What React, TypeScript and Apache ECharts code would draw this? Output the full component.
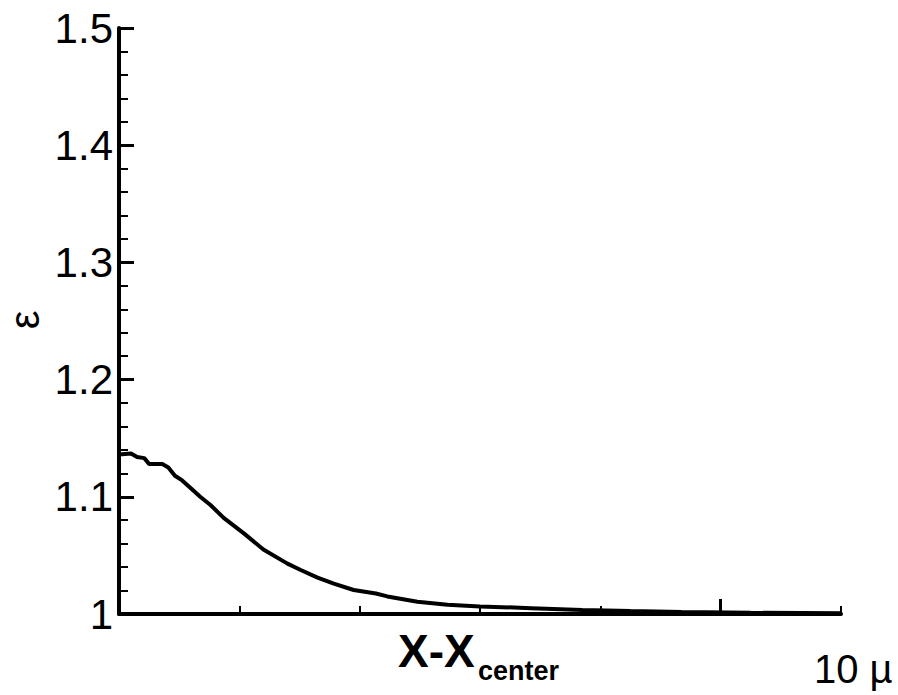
import React, { useEffect, useRef } from "react";
import * as echarts from "echarts";

// x position (µm from centre) and epsilon values
const xValues = [0.0, 0.2, 0.3, 0.42, 0.5, 0.72, 0.82, 0.93, 1.05, 1.18, 1.35, 1.52, 1.74, 2.07, 2.4, 2.8, 3.02, 3.3, 3.57, 3.9, 4.27, 4.46, 4.96, 5.46, 6.0, 6.85, 7.7, 8.5, 9.35, 10.5, 12.0];
const epsValues = [1.136, 1.137, 1.134, 1.133, 1.128, 1.128, 1.125, 1.118, 1.114, 1.108, 1.1, 1.093, 1.082, 1.069, 1.055, 1.043, 1.0375, 1.031, 1.026, 1.0205, 1.0175, 1.015, 1.0105, 1.0078, 1.0065, 1.005, 1.0035, 1.0025, 1.0017, 1.001, 1.0007];

const yMin = 1;
const yMax = 1.5;
const yInterval = 0.1;
const xMin = 0;
const xMax = 12;
const xInterval = 2;
const xMajorTicks = [10];

const xTitleMain = "X-X";
const xTitleSub = "center";
const scaleLabel = "10 µ";
const yTitle = "ε";

const FONT = "'Liberation Sans', Arial, Helvetica, sans-serif";

export default function App() {
  const ref = useRef<HTMLDivElement>(null);
  useEffect(() => {
    if (!ref.current) return;
    const chart = echarts.init(ref.current, null, { renderer: "svg" });
    const data = xValues.map((x, i) => [x, epsValues[i]]);
    chart.setOption({
      animation: false,
      backgroundColor: "#fff",
      grid: { left: 119, right: 57, top: 28, bottom: 81, containLabel: false, outerBoundsMode: "none" },
      xAxis: [
        {
          type: "value",
          min: xMin,
          max: xMax,
          interval: xInterval,
          axisLine: { show: true, lineStyle: { color: "#000", width: 4 } },
          axisTick: { show: true, inside: true, length: 8, lineStyle: { color: "#000", width: 2 } },
          axisLabel: { show: false },
          splitLine: { show: false },
        },
        {
          type: "value",
          min: xMin,
          max: xMax,
          position: "bottom",
          axisLine: { show: false },
          axisTick: { show: true, inside: true, length: 15, customValues: xMajorTicks, lineStyle: { color: "#000", width: 3 } },
          axisLabel: { show: false },
          splitLine: { show: false },
        },
      ],
      yAxis: {
        type: "value",
        min: yMin,
        max: yMax,
        interval: yInterval,
        axisLine: { show: true, lineStyle: { color: "#000", width: 4 } },
        axisTick: { show: true, inside: true, length: 15, lineStyle: { color: "#000", width: 3 } },
        minorTick: { show: true, splitNumber: 5, length: 9, lineStyle: { color: "#000", width: 2 } },
        axisLabel: { fontSize: 42, color: "#000", fontFamily: FONT, margin: 6 },
        splitLine: { show: false },
      },
      series: [
        {
          type: "line",
          xAxisIndex: 0,
          data,
          showSymbol: false,
          smooth: false,
          lineStyle: { color: "#000", width: 4 },
        },
      ],
      graphic: [
        {
          type: "text",
          x: 24,
          y: 320,
          rotation: Math.PI / 2,
          style: { text: yTitle, fontSize: 42, fill: "#000", fontFamily: FONT, verticalAlign: "middle", align: "center" },
        },
        {
          type: "text",
          x: 398,
          y: 651,
          style: { text: xTitleMain, fontSize: 46, fontWeight: "bold", fill: "#000", fontFamily: FONT, verticalAlign: "middle", align: "left" },
        },
        {
          type: "text",
          x: 478,
          y: 671,
          style: { text: xTitleSub, fontSize: 27, fontWeight: "bold", fill: "#000", fontFamily: FONT, verticalAlign: "middle", align: "left" },
        },
        {
          type: "text",
          x: 814,
          y: 669,
          style: { text: scaleLabel, fontSize: 40, fill: "#000", fontFamily: FONT, verticalAlign: "middle", align: "left" },
        },
      ],
    });
    return () => chart.dispose();
  }, []);
  return (
    <div
      ref={ref}
      style={{ position: "fixed", left: 0, top: 0, width: 898, height: 695, background: "#fff" }}
    />
  );
}
